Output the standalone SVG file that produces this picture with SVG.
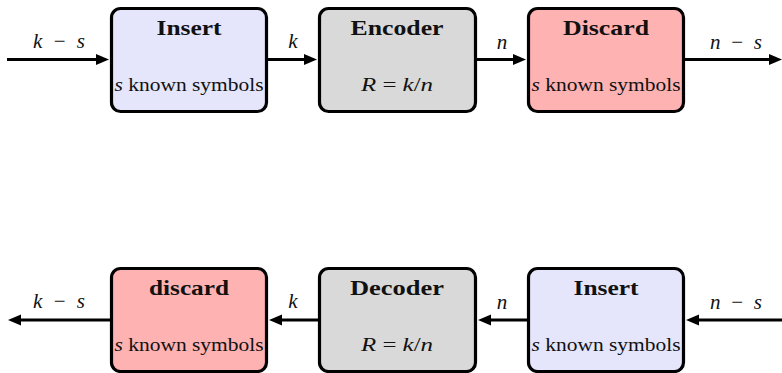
<svg xmlns="http://www.w3.org/2000/svg" width="782" height="373" viewBox="0 0 782 373">
<style>
.box{stroke:#000;stroke-width:3.2}
.ins{fill:#e5e5fc}
.cod{fill:#d9d9d9}
.dis{fill:#ffb2b2}
text{font-family:"Liberation Serif","Times New Roman","DejaVu Serif",serif;fill:#111}
.title{font-weight:bold;font-size:21px;text-anchor:middle}
.sub{font-size:18px;text-anchor:middle}
.math{font-style:italic}
.lbl{font-style:italic;font-size:21px;text-anchor:middle}
.edge{stroke:#000;stroke-width:3;fill:none;marker-end:url(#ah)}
</style>
<defs>
<marker id="ah" markerUnits="userSpaceOnUse" markerWidth="14" markerHeight="12" refX="2" refY="6" orient="auto">
<path d="M0,0.5 L13,6 L0,11.5 z" fill="#000"/>
</marker>
</defs>
<g id="connectors">
<line class="edge" x1="7" y1="59.5" x2="98" y2="59.5"/>
<line class="edge" x1="268" y1="59.5" x2="306" y2="59.5"/>
<line class="edge" x1="477" y1="59.5" x2="515" y2="59.5"/>
<line class="edge" x1="685" y1="59.5" x2="771" y2="59.5"/>
<line class="edge" x1="782" y1="320" x2="697" y2="320"/>
<line class="edge" x1="527" y1="320" x2="489" y2="320"/>
<line class="edge" x1="318" y1="320" x2="280" y2="320"/>
<line class="edge" x1="110" y1="320" x2="19" y2="320"/>
<text class="lbl" x="59" y="48" textLength="52" lengthAdjust="spacing">k <tspan font-style="normal">−</tspan> s</text>
<text class="lbl" x="293" y="48">k</text>
<text class="lbl" x="502" y="49">n</text>
<text class="lbl" x="736" y="49" textLength="52" lengthAdjust="spacing">n <tspan font-style="normal">−</tspan> s</text>
<text class="lbl" x="59" y="308" textLength="52" lengthAdjust="spacing">k <tspan font-style="normal">−</tspan> s</text>
<text class="lbl" x="293" y="308">k</text>
<text class="lbl" x="502" y="309">n</text>
<text class="lbl" x="736" y="309" textLength="52" lengthAdjust="spacing">n <tspan font-style="normal">−</tspan> s</text>
</g>
<g id="insert1">
<rect class="box ins" x="111.5" y="8.5" width="155" height="103" rx="9"/>
<text class="title" x="189" y="35" textLength="65" lengthAdjust="spacingAndGlyphs">Insert</text>
<text class="sub" x="189" y="91" textLength="149" lengthAdjust="spacingAndGlyphs"><tspan class="math">s</tspan> known symbols</text>
</g>
<g id="encoder">
<rect class="box cod" x="319.5" y="8.5" width="156" height="103" rx="9"/>
<text class="title" x="397" y="35" textLength="93" lengthAdjust="spacingAndGlyphs">Encoder</text>
<text class="sub" x="397" y="91" textLength="72" lengthAdjust="spacingAndGlyphs"><tspan class="math">R</tspan> = <tspan class="math">k</tspan>/<tspan class="math">n</tspan></text>
</g>
<g id="discard1">
<rect class="box dis" x="528.5" y="8.5" width="155" height="103" rx="9"/>
<text class="title" x="606" y="35" textLength="86" lengthAdjust="spacingAndGlyphs">Discard</text>
<text class="sub" x="606" y="91" textLength="149" lengthAdjust="spacingAndGlyphs"><tspan class="math">s</tspan> known symbols</text>
</g>
<g id="discard2">
<rect class="box dis" x="111.5" y="268.5" width="155" height="103" rx="9"/>
<text class="title" x="189" y="295" textLength="80" lengthAdjust="spacingAndGlyphs">discard</text>
<text class="sub" x="189" y="351" textLength="149" lengthAdjust="spacingAndGlyphs"><tspan class="math">s</tspan> known symbols</text>
</g>
<g id="decoder">
<rect class="box cod" x="319.5" y="268.5" width="156" height="103" rx="9"/>
<text class="title" x="397" y="295" textLength="94" lengthAdjust="spacingAndGlyphs">Decoder</text>
<text class="sub" x="397" y="351" textLength="72" lengthAdjust="spacingAndGlyphs"><tspan class="math">R</tspan> = <tspan class="math">k</tspan>/<tspan class="math">n</tspan></text>
</g>
<g id="insert2">
<rect class="box ins" x="528.5" y="268.5" width="155" height="103" rx="9"/>
<text class="title" x="606" y="295" textLength="65" lengthAdjust="spacingAndGlyphs">Insert</text>
<text class="sub" x="606" y="351" textLength="149" lengthAdjust="spacingAndGlyphs"><tspan class="math">s</tspan> known symbols</text>
</g>
</svg>
